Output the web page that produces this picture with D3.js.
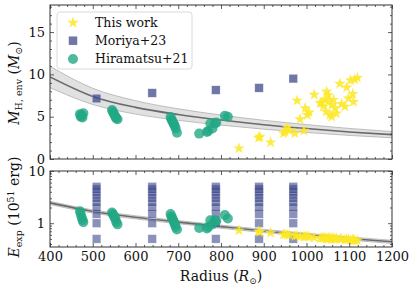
<!DOCTYPE html>
<html><head><meta charset="utf-8">
<script src="https://cdn.jsdelivr.net/npm/d3@7"></script>
<style>
body{margin:0;background:#fff;}
svg, svg text{font-family:"DejaVu Serif","Liberation Serif",serif;}
</style></head>
<body><svg id="c" width="416" height="290"></svg>
<script>
// ---------- data ----------
const xTicks = [400,500,600,700,800,900,1000,1100,1200];
const topYTicks = [0,5,10,15];
const botYTicks = [1,10];

// fit curves
const fitR = [400,500,600,700,800,900,1000,1100,1200];
const fitM = [9.7,7.4,6.1,5.25,4.6,4.05,3.6,3.2,2.88];
const fitE = [2.45,1.68,1.3,1.05,0.86,0.71,0.6,0.51,0.44];
const bandM = 0.13;  // relative half-width of shaded band (top)
const bandE = 0.07;  // relative half-width of shaded band (bottom)

// This work
const thisR = [842,888,891,916,946,950,955,960,973,978,985,994,997,1002,1006,1018,1032,1036,1039,1043,1046,1047,1051,1051,1055,1059,1059,1063,1067,1070,1078,1082,1090,1094,1098,1103,1108,1110,1113,1119];
const thisM = [1.26,2.5,2.63,1.97,3.03,3.2,3.74,3.34,3.03,6.9,4.7,3.34,6.0,5.2,5.5,7.6,6.6,6.65,6.2,7.05,5.6,7.95,7.56,6.8,5.2,6.4,5.0,7.0,6.0,5.4,8.9,6.5,6.2,8.45,7.15,9.3,7.7,6.75,9.4,9.6];
const thisE = [0.73,0.69,0.68,0.65,0.61,0.61,0.60,0.60,0.57,0.58,0.56,0.55,0.56,0.56,0.55,0.53,0.52,0.52,0.53,0.52,0.51,0.51,0.52,0.51,0.52,0.50,0.51,0.51,0.50,0.51,0.50,0.50,0.49,0.49,0.49,0.47,0.48,0.48,0.47,0.47];

// Moriya+23
const moriyaR = [509,639,788,889,969];
const moriyaM = [7.15,7.8,8.15,8.4,9.5];
const moriyaE = [0.5,1.0,1.5,2.0,2.5,3.0,3.5,4.0,4.5,5.0];

// Hiramatsu+21
const hiraR = [470,472,474,476,478, 545,547,549,551,553,555,558, 682,684,686,688,690,692,694,697, 749,767,770,775,780,786,789,809,816];
const hiraM = [5.3,5.0,5.2,4.9,5.4, 5.8,5.6,5.4,5.2,5.0,4.8,4.7, 4.95,4.7,4.5,4.3,4.1,3.9,3.6,3.1, 3.0,3.2,3.3,4.2,3.6,4.2,4.3,5.1,5.0];
const hiraE = [1.7,1.5,1.3,1.15,1.05, 1.6,1.5,1.4,1.3,1.2,1.05,0.95, 1.5,1.35,1.25,1.15,1.05,0.95,0.85,0.76, 0.81,0.79,0.85,1.14,0.95,1.14,1.1,1.43,1.23];

const legendLabels = ["This work","Moriya+23","Hiramatsu+21"];

// ---------- styles ----------
const FONT = "DejaVu Serif, Liberation Serif, serif";
const cStar = "#fde725", cSq = "#3e4a8b", cCirc = "#22a884";
const L = 50, R = 392;
const topT = 5, topB = 159, botT = 171, botB = 247;

const svg = d3.select("#c");
const x = d3.scaleLinear([400,1200],[L,R]);
const yT = d3.scaleLinear([0,18.2],[topB,topT]);
const yB = d3.scaleLog([0.35,10],[botB,botT]);

const starSym = d3.symbol(d3.symbolStar, 42);
const sqSide = 8.5;

function clip(id, y0, y1){
  svg.append("clipPath").attr("id",id).append("rect").attr("x",L).attr("y",y0).attr("width",R-L).attr("height",y1-y0);
}
clip("ct", topT, topB); clip("cb", botT, botB);

function panel(ys, clipId, fitV, band){
  const g = svg.append("g").attr("clip-path",`url(#${clipId})`);
  const pts = fitR.map((r,i)=>({r, v:fitV[i]}));
  const area = d3.area().curve(d3.curveMonotoneX)
    .x(d=>x(d.r)).y0(d=>ys(d.v*(1-band))).y1(d=>ys(d.v*(1+band)));
  g.append("path").datum(pts).attr("d",area).attr("fill","#bdbdbd").attr("fill-opacity",0.45);
  const lineU = d3.line().curve(d3.curveMonotoneX).x(d=>x(d.r)).y(d=>ys(d.v*(1+band)));
  const lineL = d3.line().curve(d3.curveMonotoneX).x(d=>x(d.r)).y(d=>ys(d.v*(1-band)));
  g.append("path").datum(pts).attr("d",lineU).attr("fill","none").attr("stroke","#9a9a9a").attr("stroke-width",0.6);
  g.append("path").datum(pts).attr("d",lineL).attr("fill","none").attr("stroke","#9a9a9a").attr("stroke-width",0.6);
  const line = d3.line().curve(d3.curveMonotoneX).x(d=>x(d.r)).y(d=>ys(d.v));
  g.append("path").datum(pts).attr("d",line).attr("fill","none").attr("stroke","#6a6a6a").attr("stroke-width",1.6);
  return g;
}

// top panel
const gT = panel(yT,"ct",fitM,bandM);
gT.selectAll("rect.m").data(moriyaR).join("rect")
  .attr("x",(d)=>x(d)-sqSide/2).attr("y",(d,i)=>yT(moriyaM[i])-sqSide/2)
  .attr("width",sqSide).attr("height",sqSide).attr("fill",cSq).attr("fill-opacity",0.75)
  .attr("stroke","#fff").attr("stroke-opacity",0.5).attr("stroke-width",0.5);
gT.selectAll("circle.h").data(hiraR).join("circle")
  .attr("cx",d=>x(d)).attr("cy",(d,i)=>yT(hiraM[i])).attr("r",5)
  .attr("fill",cCirc).attr("fill-opacity",0.8);
gT.selectAll("path.s").data(thisR).join("path")
  .attr("d",starSym).attr("transform",(d,i)=>`translate(${x(d)},${yT(thisM[i])})`)
  .attr("fill",cStar).attr("fill-opacity",0.85);

// bottom panel
const gB = panel(yB,"cb",fitE,bandE);
const moriyaPts = [];
moriyaR.forEach(r=>moriyaE.forEach(e=>moriyaPts.push({r,e})));
gB.selectAll("rect.m").data(moriyaPts).join("rect")
  .attr("x",d=>x(d.r)-sqSide/2).attr("y",d=>yB(d.e)-sqSide/2)
  .attr("width",sqSide).attr("height",sqSide).attr("fill",cSq).attr("fill-opacity",0.6)
  .attr("stroke","#fff").attr("stroke-opacity",0.5).attr("stroke-width",0.5);
gB.selectAll("circle.h").data(hiraR).join("circle")
  .attr("cx",d=>x(d)).attr("cy",(d,i)=>yB(hiraE[i])).attr("r",5)
  .attr("fill",cCirc).attr("fill-opacity",0.8);
gB.selectAll("path.s").data(thisR).join("path")
  .attr("d",starSym).attr("transform",(d,i)=>`translate(${x(d)},${yB(thisE[i])})`)
  .attr("fill",cStar).attr("fill-opacity",0.85);

// ---------- axes ----------
const axCol = "#333";
function styleAx(g){
  g.attr("font-family",FONT);
  g.select(".domain").remove();
  g.selectAll("line").attr("stroke",axCol).attr("stroke-width",0.8);
  g.selectAll("text").attr("fill","#111").attr("font-family",FONT).attr("font-size",13);
}
const xMinor = d3.range(400,1201,20).filter(v=>v%100!==0);
function xAxes(yPos, yTop, labels){
  styleAx(svg.append("g").attr("transform",`translate(0,${yPos})`)
    .call(d3.axisBottom(x).tickValues(xTicks).tickSize(-4).tickPadding(5).tickFormat(labels?d3.format("d"):"")));
  styleAx(svg.append("g").attr("transform",`translate(0,${yPos})`)
    .call(d3.axisBottom(x).tickValues(xMinor).tickSize(-2).tickFormat("")));
  styleAx(svg.append("g").attr("transform",`translate(0,${yTop})`)
    .call(d3.axisTop(x).tickValues(xTicks).tickSize(-4).tickFormat("")));
  styleAx(svg.append("g").attr("transform",`translate(0,${yTop})`)
    .call(d3.axisTop(x).tickValues(xMinor).tickSize(-2).tickFormat("")));
}
xAxes(topB, topT, false);
xAxes(botB, botT, true);

// top y
const yTMinor = d3.range(0,18.1,1).filter(v=>v%5!==0);
styleAx(svg.append("g").attr("transform",`translate(${L},0)`)
  .call(d3.axisLeft(yT).tickValues(topYTicks).tickSize(-4).tickPadding(5).tickFormat(d3.format("d"))));
styleAx(svg.append("g").attr("transform",`translate(${L},0)`)
  .call(d3.axisLeft(yT).tickValues(yTMinor).tickSize(-2).tickFormat("")));
styleAx(svg.append("g").attr("transform",`translate(${R},0)`)
  .call(d3.axisRight(yT).tickValues(topYTicks).tickSize(-4).tickFormat("")));
styleAx(svg.append("g").attr("transform",`translate(${R},0)`)
  .call(d3.axisRight(yT).tickValues(yTMinor).tickSize(-2).tickFormat("")));

// bottom y (log)
const yBMinor = [0.4,0.5,0.6,0.7,0.8,0.9,2,3,4,5,6,7,8,9];
styleAx(svg.append("g").attr("transform",`translate(${L},0)`)
  .call(d3.axisLeft(yB).tickValues(botYTicks).tickSize(-4).tickPadding(5).tickFormat(d3.format("d"))));
styleAx(svg.append("g").attr("transform",`translate(${L},0)`)
  .call(d3.axisLeft(yB).tickValues(yBMinor).tickSize(-2).tickFormat("")));
styleAx(svg.append("g").attr("transform",`translate(${R},0)`)
  .call(d3.axisRight(yB).tickValues(botYTicks).tickSize(-4).tickFormat("")));
styleAx(svg.append("g").attr("transform",`translate(${R},0)`)
  .call(d3.axisRight(yB).tickValues(yBMinor).tickSize(-2).tickFormat("")));

// frames
[[topT,topB],[botT,botB]].forEach(([a,b])=>{
  svg.append("rect").attr("x",L).attr("y",a).attr("width",R-L).attr("height",b-a)
    .attr("fill","none").attr("stroke",axCol).attr("stroke-width",1);
});

// ---------- labels ----------
svg.append("text").attr("x",(L+R)/2).attr("y",281).attr("text-anchor","middle")
  .attr("font-family",FONT).attr("font-size",14).attr("fill","#111")
  .html('Radius (<tspan font-style="italic">R</tspan><tspan font-size="9px" dy="3">⊙</tspan><tspan dy="-3">)</tspan>');

svg.append("text").attr("transform","translate(19,83) rotate(-90)").attr("text-anchor","middle")
  .attr("font-family",FONT).attr("font-size",14).attr("fill","#111")
  .html('<tspan font-style="italic">M</tspan><tspan font-size="9.5px" dy="3">H, env</tspan><tspan dy="-3"> (</tspan><tspan font-style="italic">M</tspan><tspan font-size="9.5px" dy="3">⊙</tspan><tspan dy="-3">)</tspan>');

svg.append("text").attr("transform","translate(19,207) rotate(-90)").attr("text-anchor","middle")
  .attr("font-family",FONT).attr("font-size",14).attr("fill","#111")
  .html('<tspan font-style="italic">E</tspan><tspan font-size="9.5px" dy="3">exp</tspan><tspan dy="-3"> (10</tspan><tspan font-size="9.5px" dy="-5">51</tspan><tspan dy="5"> erg)</tspan>');

// ---------- legend ----------
const lg = svg.append("g");
lg.append("rect").attr("x",57).attr("y",12).attr("width",135).attr("height",57).attr("rx",3)
  .attr("fill","#fff").attr("fill-opacity",0.85).attr("stroke","#d0d0d0").attr("stroke-width",0.8);
const rows = [22.7,40.7,59];
lg.append("path").attr("d",starSym).attr("transform",`translate(73,${rows[0]})`).attr("fill",cStar).attr("fill-opacity",0.85);
lg.append("rect").attr("x",73-sqSide/2).attr("y",rows[1]-sqSide/2).attr("width",sqSide).attr("height",sqSide).attr("fill",cSq).attr("fill-opacity",0.75);
lg.append("circle").attr("cx",73).attr("cy",rows[2]).attr("r",5).attr("fill",cCirc).attr("fill-opacity",0.8);
legendLabels.forEach((t,i)=>{
  lg.append("text").attr("x",95).attr("y",rows[i]).attr("dy","0.35em")
    .attr("font-family",FONT).attr("font-size",12.5).attr("fill","#111").text(t);
});
</script></body></html>
